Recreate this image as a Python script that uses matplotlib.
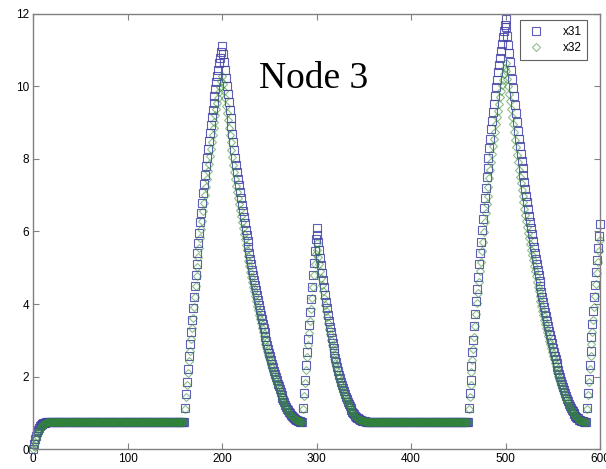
import matplotlib.pyplot as plt
import numpy as np

# values, one per time step (0..600)
x31_start = [0.02, 0.15, 0.27, 0.38, 0.47, 0.54, 0.60, 0.64, 0.67, 0.69, 0.71, 0.72, 0.73, 0.73, 0.74, 0.74]
x32_start = [0.00, 0.08, 0.18, 0.28, 0.37, 0.45, 0.52, 0.57, 0.62, 0.65, 0.68, 0.70, 0.71, 0.72, 0.73, 0.74]
plateau = 0.75

x31_rise1 = [1.15, 1.51, 1.86, 2.21, 2.56, 2.89, 3.23, 3.55, 3.88, 4.19, 4.50, 4.81, 5.11, 5.40, 5.69, 5.97,
             6.25, 6.52, 6.78, 7.05, 7.30, 7.55, 7.79, 8.03, 8.27, 8.49, 8.71, 8.93, 9.14, 9.35, 9.55, 9.74,
             9.93, 10.11, 10.29, 10.46, 10.63, 10.79, 10.95, 11.10]
x32_rise1 = [1.12, 1.45, 1.77, 2.09, 2.42, 2.72, 3.03, 3.33, 3.63, 3.91, 4.20, 4.49, 4.76, 5.03, 5.29, 5.55,
             5.81, 6.06, 6.30, 6.55, 6.78, 7.01, 7.23, 7.45, 7.67, 7.87, 8.07, 8.28, 8.47, 8.66, 8.85, 9.02,
             9.20, 9.36, 9.53, 9.68, 9.84, 9.99, 10.13, 10.27]

x31_fall1 = [10.88, 10.66, 10.44, 10.22, 10.00, 9.78, 9.56, 9.34, 9.12, 8.90, 8.68, 8.46, 8.24, 8.02,
             7.83, 7.64, 7.45, 7.27, 7.09, 6.91, 6.73, 6.56, 6.39, 6.22, 6.05, 5.89, 5.73, 5.57, 5.41, 5.25,
             5.10, 4.95, 4.80, 4.66, 4.52, 4.38, 4.24, 4.10, 3.97, 3.84, 3.71, 3.58, 3.46, 3.34, 3.22, 3.10,
             2.99, 2.88, 2.77, 2.66, 2.56, 2.46,
             2.36, 2.26, 2.17, 2.08, 1.99, 1.90, 1.81, 1.73, 1.65, 1.57, 1.49, 1.42, 1.35,
             1.29, 1.23, 1.17, 1.12, 1.07, 1.03, 0.99, 0.95, 0.92, 0.89, 0.86, 0.84, 0.82, 0.80, 0.79, 0.78,
             0.77, 0.76, 0.76, 0.75]
x32_fall1 = [10.07, 9.87, 9.67, 9.46, 9.26, 9.06, 8.86, 8.65, 8.45, 8.25, 8.05, 7.84, 7.64, 7.44,
             7.26, 7.09, 6.91, 6.75, 6.58, 6.42, 6.25, 6.10, 5.94, 5.78, 5.63, 5.48, 5.33, 5.18, 5.04, 4.89,
             4.75, 4.61, 4.48, 4.35, 4.22, 4.09, 3.96, 3.83, 3.71, 3.59, 3.47, 3.35, 3.24, 3.13, 3.02, 2.91,
             2.81, 2.71, 2.61, 2.51, 2.42, 2.32,
             2.23, 2.14, 2.06, 1.97, 1.89, 1.81, 1.73, 1.65, 1.58, 1.50, 1.43, 1.37, 1.30,
             1.25, 1.19, 1.14, 1.09, 1.04, 1.01, 0.97, 0.93, 0.91, 0.88, 0.85, 0.83, 0.81, 0.80, 0.79, 0.78,
             0.77, 0.76, 0.76, 0.75]

x31_rise2 = [1.15, 1.54, 1.92, 2.31, 2.69, 3.05, 3.42, 3.77, 4.13, 4.46, 4.80, 5.14, 5.47, 5.78, 6.10]
x32_rise2 = [1.12, 1.48, 1.83, 2.19, 2.53, 2.87, 3.21, 3.53, 3.86, 4.16, 4.48, 4.79, 5.09, 5.38, 5.67]

x31_fall2 = [5.90, 5.70, 5.49, 5.28, 5.07, 4.86, 4.66, 4.46, 4.26, 4.07, 3.89, 3.71, 3.54, 3.38, 3.22,
             3.07, 2.92, 2.78, 2.65, 2.52, 2.40, 2.28, 2.17, 2.06, 1.96, 1.86, 1.77, 1.68, 1.60, 1.52,
             1.45, 1.38, 1.31, 1.25, 1.19, 1.14, 1.09, 1.04, 1.00, 0.96, 0.93, 0.90, 0.87, 0.85, 0.83,
             0.81, 0.80, 0.79, 0.78, 0.77, 0.77, 0.76, 0.76, 0.75]
x32_fall2 = [5.49, 5.30, 5.11, 4.92, 4.72, 4.53, 4.35, 4.16, 3.98, 3.80, 3.64, 3.47, 3.32, 3.17, 3.02,
             2.88, 2.75, 2.62, 2.50, 2.38, 2.27, 2.16, 2.06, 1.96, 1.86, 1.77, 1.69, 1.61, 1.53, 1.46,
             1.39, 1.33, 1.27, 1.21, 1.16, 1.11, 1.06, 1.02, 0.98, 0.94, 0.92, 0.89, 0.86, 0.84, 0.82,
             0.81, 0.80, 0.79, 0.78, 0.77, 0.77, 0.76, 0.76, 0.75]

x31_rise3 = [1.15, 1.54, 1.91, 2.29, 2.67, 3.02, 3.39, 3.73, 4.09, 4.42, 4.75, 5.09, 5.41, 5.72, 6.03, 6.33,
             6.64, 6.93, 7.21, 7.50, 7.76, 8.03, 8.29, 8.55, 8.81, 9.04, 9.28, 9.52, 9.74, 9.97, 10.18, 10.39,
             10.59, 10.79, 10.98, 11.16, 11.35, 11.52, 11.69, 11.85]
x32_rise3 = [1.11, 1.45, 1.78, 2.12, 2.46, 2.77, 3.10, 3.40, 3.72, 4.02, 4.31, 4.61, 4.90, 5.17, 5.45, 5.72,
             5.99, 6.25, 6.50, 6.76, 6.99, 7.23, 7.46, 7.69, 7.92, 8.13, 8.34, 8.56, 8.75, 8.96, 9.14, 9.33,
             9.51, 9.69, 9.86, 10.02, 10.18, 10.34, 10.49, 10.63]

x31_fall3 = [11.62, 11.38, 11.14, 10.91, 10.67, 10.44, 10.20, 9.96, 9.73, 9.49, 9.26, 9.02, 8.78, 8.55,
             8.34, 8.14, 7.94, 7.74, 7.55, 7.36, 7.16, 6.98, 6.80, 6.62, 6.43, 6.26, 6.09, 5.92, 5.75, 5.58,
             5.42, 5.25, 5.09, 4.94, 4.79, 4.64, 4.49, 4.34, 4.20, 4.06, 3.92, 3.79, 3.66, 3.53, 3.40, 3.27,
             3.15, 3.03, 2.92, 2.80, 2.69, 2.58,
             2.48, 2.37, 2.27, 2.18, 2.08, 1.98, 1.89, 1.80, 1.72, 1.63, 1.54, 1.47, 1.39,
             1.33, 1.26, 1.20, 1.15, 1.09, 1.05, 1.01, 0.96, 0.93, 0.90, 0.87, 0.85, 0.82, 0.80, 0.79, 0.78,
             0.77, 0.76, 0.76, 0.75]
x32_fall3 = [10.42, 10.21, 10.00, 9.79, 9.58, 9.37, 9.16, 8.95, 8.74, 8.53, 8.32, 8.11, 7.90, 7.69,
             7.51, 7.33, 7.15, 6.97, 6.80, 6.63, 6.46, 6.30, 6.13, 5.97, 5.81, 5.65, 5.50, 5.35, 5.20, 5.05,
             4.91, 4.76, 4.61, 4.48, 4.35, 4.21, 4.08, 3.95, 3.82, 3.70, 3.57, 3.46, 3.34, 3.22, 3.11, 2.99,
             2.89, 2.78, 2.68, 2.57, 2.48, 2.38,
             2.29, 2.19, 2.10, 2.02, 1.93, 1.85, 1.76, 1.68, 1.61, 1.53, 1.45, 1.39, 1.32,
             1.27, 1.20, 1.15, 1.11, 1.05, 1.02, 0.98, 0.94, 0.91, 0.88, 0.86, 0.84, 0.81, 0.79, 0.79, 0.78,
             0.77, 0.76, 0.76, 0.75]

x31_rise4 = [1.15, 1.55, 1.94, 2.33, 2.72, 3.08, 3.46, 3.82, 4.19, 4.53, 4.88, 5.22, 5.55, 5.88, 6.20]
x32_rise4 = [1.12, 1.49, 1.84, 2.20, 2.56, 2.89, 3.24, 3.57, 3.91, 4.23, 4.55, 4.86, 5.17, 5.47, 5.76]

x31 = (x31_start + [plateau] * 145 + x31_rise1 + x31_fall1 + x31_rise2 + x31_fall2
       + [plateau] * 106 + x31_rise3 + x31_fall3 + x31_rise4)
x32 = (x32_start + [plateau] * 145 + x32_rise1 + x32_fall1 + x32_rise2 + x32_fall2
       + [plateau] * 106 + x32_rise3 + x32_fall3 + x32_rise4)
steps = np.arange(len(x31))

plt.rcParams['font.family'] = ['Liberation Sans', 'DejaVu Sans']

fig = plt.figure(figsize=(6.06, 4.69), dpi=100)
ax = fig.add_axes([0.0545, 0.042, 0.9356, 0.929])

ax.plot(steps, x31, linestyle='none', marker='s', markersize=5.6, markerfacecolor='none',
        markeredgecolor='#4343a8', markeredgewidth=0.8, alpha=0.85, label='x31', clip_on=False)
ax.plot(steps, x32, linestyle='none', marker='D', markersize=4.2, markerfacecolor='none',
        markeredgecolor='#2f8a2f', markeredgewidth=0.8, alpha=0.55, label='x32', clip_on=False)

ax.set_xlim(0, 600)
ax.set_ylim(0, 12)
ax.set_xticks(np.arange(0, 601, 100))
ax.set_yticks(np.arange(0, 13, 2))
ax.tick_params(direction='in', length=4, width=0.8, color='#808080', labelsize=8.5,
               top=True, right=True, pad=3)
for s in ax.spines.values():
    s.set_color('#808080')
    s.set_linewidth(1)

ax.text(297, 9.95, 'Node 3', family=['Liberation Serif', 'DejaVu Serif'], fontsize=27,
        ha='center', va='baseline')

leg = ax.legend(loc='upper right', bbox_to_anchor=(0.988, 0.998), fancybox=False,
                edgecolor='#606060', framealpha=1, fontsize=8.5, handlelength=1.8,
                handletextpad=1.3, labelspacing=0.35, borderpad=0.5)
leg.get_frame().set_linewidth(0.8)

fig.savefig('out.png', dpi=100)
